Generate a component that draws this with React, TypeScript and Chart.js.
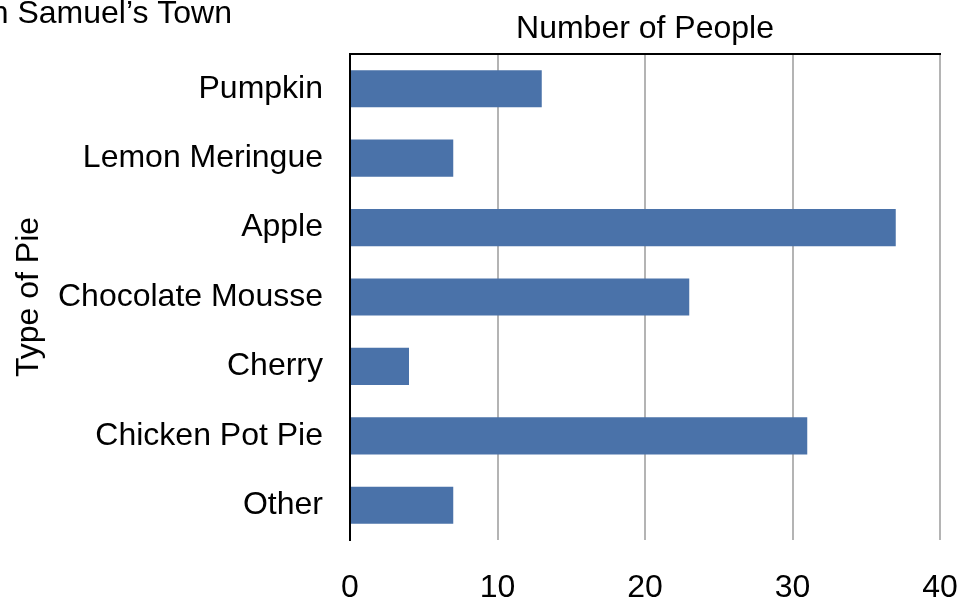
import { useEffect, useRef } from 'react';
import { Chart, registerables } from 'chart.js';

Chart.register(...registerables);

const chartTitle = 'Favorite Types of Pie in Samuel\u2019s Town';
const xAxisTitle = 'Number of People';
const yAxisTitle = 'Type of Pie';
const pieTypes = ['Pumpkin', 'Lemon Meringue', 'Apple', 'Chocolate Mousse', 'Cherry', 'Chicken Pot Pie', 'Other'];
const peopleCounts = [13, 7, 37, 23, 4, 31, 7];
const xMin = 0;
const xMax = 40;
const xStep = 10;

const FAMILY = '"Liberation Sans", Arial, Helvetica, sans-serif';
const FONT_SIZE = 32;

const cutTitlePlugin = {
  id: 'cutTitle',
  afterDraw(chart: any) {
    const ctx = chart.ctx;
    ctx.save();
    ctx.font = `32px ${FAMILY}`;
    ctx.fillStyle = '#000';
    ctx.textAlign = 'right';
    ctx.textBaseline = 'alphabetic';
    ctx.fillText(chartTitle, 232, 23);
    ctx.restore();
  },
};

export default function App() {
  const ref = useRef<HTMLCanvasElement | null>(null);

  useEffect(() => {
    if (!ref.current) return;
    const font = { family: FAMILY, size: FONT_SIZE };
    const chart = new Chart(ref.current, {
      type: 'bar',
      data: {
        labels: pieTypes,
        datasets: [
          {
            data: peopleCounts,
            backgroundColor: '#4a72a9',
            borderWidth: 0,
            barPercentage: 0.535,
            categoryPercentage: 1,
          },
        ],
      },
      options: {
        indexAxis: 'y',
        animation: false,
        responsive: false,
        layout: { padding: { left: 0, right: 8, top: 0, bottom: 0 } },
        plugins: {
          legend: { display: false },
          tooltip: { enabled: false },
          title: { display: false },
        },
        scales: {
          x: {
            type: 'linear',
            position: 'bottom',
            min: xMin,
            max: xMax,
            ticks: { stepSize: xStep, color: '#000', font, padding: 29 },
            grid: { color: '#b4b4b4', lineWidth: 2, drawTicks: false },
            border: { display: false },
            afterFit(s: any) {
              s.height = 64;
              s.paddingLeft = 0;
              s.paddingRight = 25;
            },
          },
          xTop: {
            type: 'linear',
            position: 'top',
            min: xMin,
            max: xMax,
            ticks: { display: false },
            grid: { display: false, drawTicks: false },
            border: { display: true, color: '#000', width: 2 },
            title: { display: true, text: xAxisTitle, color: '#000', font, padding: { top: 10, bottom: 0 } },
            afterFit(s: any) {
              s.height = 54;
              s.paddingLeft = 0;
              s.paddingRight = 0;
            },
          },
          y: {
            type: 'category',
            position: 'left',
            ticks: { color: '#000', font, padding: 27 },
            grid: { display: false, drawTicks: false },
            border: { display: true, color: '#000', width: 2 },
            title: { display: true, text: yAxisTitle, color: '#000', font, padding: { top: 10, bottom: 0 } },
            afterFit(s: any) {
              s.width = 350;
            },
          },
        },
      },
      plugins: [cutTitlePlugin],
    });
    return () => chart.destroy();
  }, []);

  return (
    <div style={{ position: 'absolute', left: 0, top: 0, width: 965, height: 604, background: '#fff' }}>
      <canvas ref={ref} width={965} height={604} style={{ display: 'block' }} />
    </div>
  );
}
